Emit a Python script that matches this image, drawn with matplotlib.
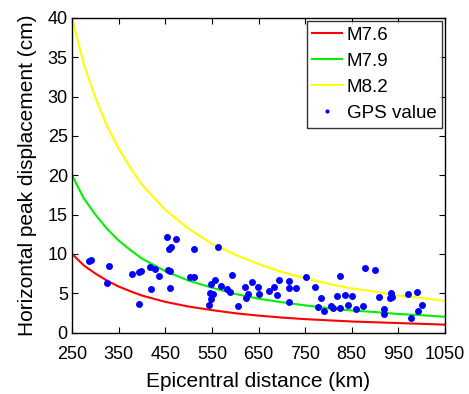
import numpy as np
import matplotlib
matplotlib.use('Agg')
import matplotlib.pyplot as plt

plt.rcParams['font.family'] = ['Liberation Sans', 'DejaVu Sans']

# attenuation curves
dist = [250, 275, 300, 325, 350, 375, 400, 450, 500, 550, 600, 650, 700,
        750, 800, 850, 900, 950, 1000, 1050]
m82 = [40.0, 34.2, 29.9, 26.3, 23.4, 21.0, 18.8, 15.6, 13.2, 11.3, 9.9, 8.7,
       7.7, 6.9, 6.2, 5.6, 5.2, 4.7, 4.4, 4.0]
m79 = [20.0, 17.1, 15.0, 13.2, 11.7, 10.5, 9.4, 7.8, 6.6, 5.7, 4.9, 4.3,
       3.85, 3.45, 3.1, 2.8, 2.6, 2.35, 2.2, 2.0]
m76 = [10.0, 8.55, 7.5, 6.6, 5.85, 5.25, 4.7, 3.9, 3.3, 2.85, 2.45, 2.15,
       1.9, 1.7, 1.55, 1.4, 1.3, 1.2, 1.1, 1.0]

# GPS observations
gps_x = [287, 291, 330, 326, 394, 379, 394, 398, 420, 418, 427, 436, 454, 474,
         459, 462, 456, 460, 460, 512, 503, 512, 563, 548, 557, 546, 553, 548,
         544, 570, 583, 589, 594, 606, 621, 627, 624, 635, 648, 652, 673, 684,
         690, 695, 716, 715, 716, 731, 751, 772, 784, 777, 791, 806, 809, 819,
         824, 824, 835, 842, 851, 859, 875, 878, 899, 909, 920, 920, 934, 932,
         937, 970, 991, 1001, 993, 978]
gps_y = [9.13, 9.22, 8.42, 6.26, 3.66, 7.40, 7.70, 7.79, 5.50, 8.33, 8.04, 7.23,
         12.19, 11.93, 10.62, 10.92, 7.95, 7.79, 5.62, 10.59, 7.10, 7.02, 10.84,
         6.13, 6.68, 4.99, 4.90, 4.26, 3.50, 5.92, 5.50, 5.19, 7.32, 3.41, 5.79,
         4.90, 4.43, 6.39, 5.79, 4.90, 5.28, 5.79, 4.77, 6.72, 6.55, 5.62, 3.88,
         5.70, 7.02, 5.75, 4.35, 3.28, 2.74, 3.37, 3.16, 4.61, 7.15, 3.16, 4.81,
         3.50, 4.61, 2.99, 3.41, 8.24, 7.91, 4.52, 2.99, 2.35, 5.06, 4.35, 4.55,
         4.86, 5.15, 3.50, 2.70, 1.81]

fig = plt.figure(figsize=(4.69, 3.94), dpi=100)
ax = fig.add_axes([72 / 469, 1 - 332.5 / 394, 373 / 469, 314.5 / 394])

ax.plot(dist, m76, color='#ff0000', lw=1.5, label='M7.6')
ax.plot(dist, m79, color='#00ee00', lw=1.5, label='M7.9')
ax.plot(dist, m82, color='#ffff00', lw=1.5, label='M8.2')
ax.plot(gps_x, gps_y, 'o', color='#0000ff', ms=5, mec='none',
        label='GPS value')

ax.set_xlim(250, 1050)
ax.set_ylim(0, 40)
ax.set_xticks(np.arange(250, 1051, 100))
ax.set_yticks(np.arange(0, 41, 5))
ax.tick_params(direction='in', top=True, right=True, length=4, width=0.8,
               labelsize=13)
ax.tick_params(axis='x', pad=10)
ax.tick_params(axis='y', pad=3)
for s in ax.spines.values():
    s.set_linewidth(1.0)

ax.set_xlabel('Epicentral distance (km)', fontsize=15, labelpad=6.5)
ax.set_ylabel('Horizontal peak displacement (cm)', fontsize=15, labelpad=8)

leg = ax.legend(loc='upper right', fontsize=13.5, frameon=True, fancybox=False,
                edgecolor='black', borderaxespad=0.15, handlelength=1.6,
                markerscale=0.6, labelspacing=0.48, borderpad=0.3,
                handletextpad=0.25)
leg.get_frame().set_linewidth(1.0)

fig.savefig('out.png', dpi=100)
